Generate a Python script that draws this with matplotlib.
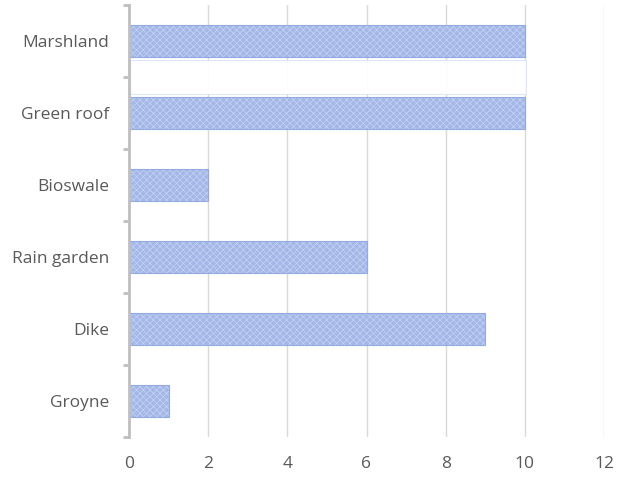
import matplotlib
matplotlib.use("Agg")
import matplotlib.pyplot as plt
import numpy as np
from matplotlib.patches import Rectangle

categories = ["Marshland", "Green roof", "Bioswale", "Rain garden", "Dike", "Groyne"]
values = [10, 10, 2, 6, 9, 1]
x_ticks = [0, 2, 4, 6, 8, 10, 12]

plt.rcParams["font.family"] = ["Open Sans", "DejaVu Sans"]
plt.rcParams["hatch.linewidth"] = 0.5

fig = plt.figure(figsize=(6.32, 4.79), dpi=100)
ax = fig.add_axes([129 / 632, 1 - 437 / 479, 475 / 632, 432 / 479])

n = len(categories)
y = np.arange(n)[::-1]  # first category at top

# textured bars: flat fill plus a light diagonal lattice
ax.barh(y, values, height=0.44, color="#A3B7E8", edgecolor="none", linewidth=0, zorder=3)
ax.barh(y, values, height=0.44, color="none", edgecolor="#C6D3F1",
        hatch="xxxxx", linewidth=0.0, zorder=3.1)
ax.barh(y, values, height=0.44, color="none", edgecolor="#93A9E0",
        linewidth=0.8, zorder=3.2)

# faint white panel between the two top bars
ax.add_patch(Rectangle((0.02, n - 1.5 - 0.24), 10.0, 0.48, facecolor="white",
                       edgecolor="#DCE6F5", linewidth=0.8, alpha=0.93, zorder=4))

ax.set_xlim(0, 12)
ax.set_ylim(-0.5, n - 0.5)
ax.set_xticks(x_ticks)
ax.set_xticklabels([str(v) for v in x_ticks])
ax.set_yticks(y)
ax.set_yticklabels(categories)
ax.set_yticks(np.arange(-0.5, n, 1.0), minor=True)

ax.grid(axis="x", color="#D9D9D9", linewidth=1.0, zorder=0)
ax.grid(axis="y", visible=False)

for side in ("top", "right", "bottom"):
    ax.spines[side].set_visible(False)
ax.spines["left"].set_color("#BFBFBF")
ax.spines["left"].set_linewidth(2.0)
ax.spines["left"].set_zorder(5)

ax.tick_params(axis="x", length=0, pad=14, labelsize=12.5, labelcolor="#595959")
ax.tick_params(axis="y", which="major", length=0, pad=14, labelsize=12.5, labelcolor="#595959")
ax.tick_params(axis="y", which="minor", length=4, width=2.0, color="#BFBFBF", direction="out")

fig.savefig("out.png", dpi=100)
